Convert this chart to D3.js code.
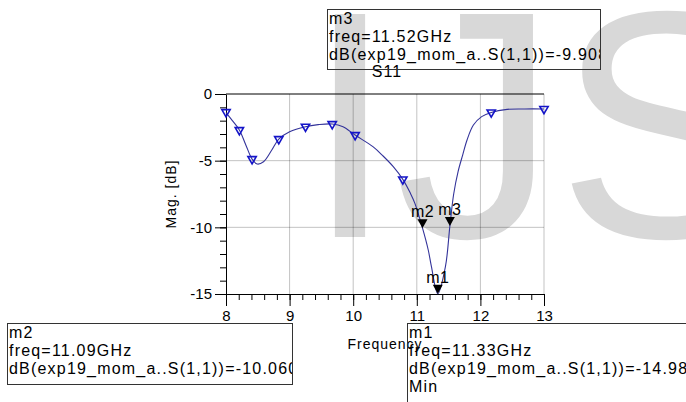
<!DOCTYPE html>
<html>
<head>
<meta charset="utf-8">
<script src="https://cdn.jsdelivr.net/npm/d3@7"></script>
<style>
body { margin: 0; background: #fff; }
svg { display: block; font-family: "Liberation Sans", Arial, sans-serif; }
</style>
</head>
<body>
<svg id="chart" width="686" height="402"></svg>
<script>
// S11 trace
traceFreq = [8.0, 8.1, 8.21, 8.31, 8.41, 8.49, 8.59, 8.72, 8.83, 9.0, 9.25, 9.45, 9.67, 9.84, 10.03,
             10.31, 10.47, 10.63, 10.78, 10.9, 10.97, 11.09, 11.18, 11.23, 11.33, 11.45, 11.52,
             11.58, 11.65, 11.72, 11.79, 11.89, 12.02, 12.17, 12.42, 12.7, 13.0];
traceDb   = [-1.4, -2.0, -2.7, -3.8, -4.88, -5.25, -5.08, -4.2, -3.38, -2.83, -2.45, -2.3, -2.25, -2.45, -3.08,
             -3.95, -4.65, -5.45, -6.4, -7.45, -8.2, -10.06, -11.7, -12.95, -14.98, -12.95, -9.908,
             -7.5, -5.8, -4.6, -3.45, -2.33, -1.7, -1.38, -1.15, -1.12, -1.12];

// trace symbols (hollow triangles)
symbolFreq = [8.0, 8.21, 8.41, 8.83, 9.25, 9.67, 10.03, 10.78, 12.17, 13.0];
symbolDb   = [-1.35, -2.7, -4.88, -3.38, -2.45, -2.25, -3.08, -6.4, -1.38, -1.12];

// markers
markerNames = ["m1", "m2", "m3"];
markerFreq  = [11.33, 11.09, 11.52];
markerDb    = [-14.98, -10.06, -9.908];
markerText  = ["-14.98", "-10.060", "-9.908"];
markerExtra = ["Min", "", ""];

xTicks = [8, 9, 10, 11, 12, 13];
yTicks = [0, -5, -10, -15];

svg = d3.select("#chart");

x = d3.scaleLinear().domain([8, 13]).range([226, 544]);
y = d3.scaleLinear().domain([-15, 0]).range([294, 94]);

// watermark
svg.append("text")
    .text("IJS")
    .attr("x", 305)
    .attr("y", 237)
    .attr("font-size", 324)
    .attr("fill", "#d8d8d8");

// grid
grid = svg.append("g").attr("stroke", "#000").attr("stroke-opacity", 0.24);
grid.selectAll(".vgrid")
    .data(xTicks.slice(1))
    .join("line")
    .attr("x1", d => x(d)).attr("x2", d => x(d))
    .attr("y1", y(0)).attr("y2", y(-15));
grid.selectAll(".hgrid")
    .data([-5, -10])
    .join("line")
    .attr("x1", x(8)).attr("x2", x(13))
    .attr("y1", d => y(d)).attr("y2", d => y(d));

// top frame line
svg.append("line")
    .attr("x1", x(8)).attr("x2", x(13))
    .attr("y1", y(0)).attr("y2", y(0))
    .attr("stroke", "#000");

// axes
xMinor = svg.append("g")
    .attr("transform", `translate(0, ${y(-15)})`)
    .call(d3.axisBottom(x).tickValues(d3.range(8, 13.01, 0.2)).tickSize(6).tickFormat(""));
xMinor.select(".domain").remove();

xAxis = svg.append("g")
    .attr("transform", `translate(0, ${y(-15)})`)
    .call(d3.axisBottom(x).tickValues(xTicks).tickSize(12).tickSizeOuter(0).tickPadding(4)
            .tickFormat(d3.format("d")));

yMinor = svg.append("g")
    .attr("transform", `translate(${x(8)}, 0)`)
    .call(d3.axisLeft(y).tickValues(d3.range(-15, 0.01, 1)).tickSize(6).tickFormat(""));
yMinor.select(".domain").remove();

yAxis = svg.append("g")
    .attr("transform", `translate(${x(8)}, 0)`)
    .call(d3.axisLeft(y).tickValues(yTicks).tickSize(11).tickSizeOuter(0).tickPadding(3)
            .tickFormat(d => d === 0 ? "0" : "-" + Math.abs(d)));

[xAxis, yAxis, xMinor, yMinor].forEach(a => {
    a.attr("font-family", null).attr("font-size", 15);
    a.selectAll("line, path").attr("stroke", "#000");
    a.selectAll("text").attr("fill", "#000");
});

// axis titles
svg.append("text")
    .text("S11")
    .attr("x", 387).attr("y", 77)
    .attr("text-anchor", "middle")
    .attr("font-size", 16)
    .attr("letter-spacing", 1);

svg.append("text")
    .text("Frequency")
    .attr("x", 385).attr("y", 349)
    .attr("text-anchor", "middle")
    .attr("font-size", 14)
    .attr("letter-spacing", 1);

svg.append("text")
    .text("Mag. [dB]")
    .attr("text-anchor", "middle")
    .attr("font-size", 14)
    .attr("letter-spacing", 1)
    .attr("transform", `translate(176, ${y(-7.5)}) rotate(-90)`);

// trace
traceData = traceFreq.map((f, i) => [f, traceDb[i]]);
line = d3.line().x(d => x(d[0])).y(d => y(d[1])).curve(d3.curveCatmullRom.alpha(0.5));
svg.append("path")
    .datum(traceData)
    .attr("d", line)
    .attr("fill", "none")
    .attr("stroke", "#33339a")
    .attr("stroke-width", 1.1);

tri = d3.symbol().type(d3.symbolTriangle).size(30);
svg.selectAll(".sym")
    .data(symbolFreq.map((f, i) => [f, symbolDb[i]]))
    .join("path")
    .attr("d", tri)
    .attr("transform", d => `translate(${x(d[0])}, ${y(d[1])}) rotate(180)`)
    .attr("fill", "none")
    .attr("stroke", "#1414c8")
    .attr("stroke-width", 1.6);

// marker triangles with labels
markerNames.forEach((name, i) => {
    mx = x(markerFreq[i]);
    my = y(markerDb[i]);
    p = d3.path();
    p.moveTo(mx - 5, my - 9);
    p.lineTo(mx + 5, my - 9);
    p.lineTo(mx, my);
    p.closePath();
    svg.append("path").attr("d", p.toString()).attr("fill", "#000");
    svg.append("text")
        .text(name)
        .attr("x", mx).attr("y", my - 11)
        .attr("text-anchor", "middle")
        .attr("font-size", 16)
        .attr("letter-spacing", 0.5);
});

// marker readout boxes
boxes = [
    {i: 2, x: 327, y: 9, w: 273, h: 60},
    {i: 1, x: 7, y: 323, w: 285, h: 61},
    {i: 0, x: 407, y: 323, w: 300, h: 100}
];
boxes.forEach((b, k) => {
    svg.append("clipPath").attr("id", "clip" + k)
        .append("rect").attr("x", b.x).attr("y", b.y).attr("width", b.w).attr("height", b.h);
    svg.append("rect")
        .attr("x", b.x + 0.5).attr("y", b.y + 0.5)
        .attr("width", b.w).attr("height", b.h)
        .attr("fill", "none")
        .attr("stroke", "#333");
    lines = [markerNames[b.i],
             `freq=${markerFreq[b.i].toFixed(2)}GHz`,
             `dB(exp19_mom_a..S(1,1))=${markerText[b.i]}`];
    if (markerExtra[b.i]) lines.push(markerExtra[b.i]);
    g = svg.append("g").attr("clip-path", `url(#clip${k})`);
    g.selectAll("text")
        .data(lines)
        .join("text")
        .text(d => d)
        .attr("x", b.x + 2)
        .attr("y", (d, j) => b.y + 15 + j * 18)
        .attr("font-size", 16)
        .attr("letter-spacing", 1.2);
});
</script>
</body>
</html>
